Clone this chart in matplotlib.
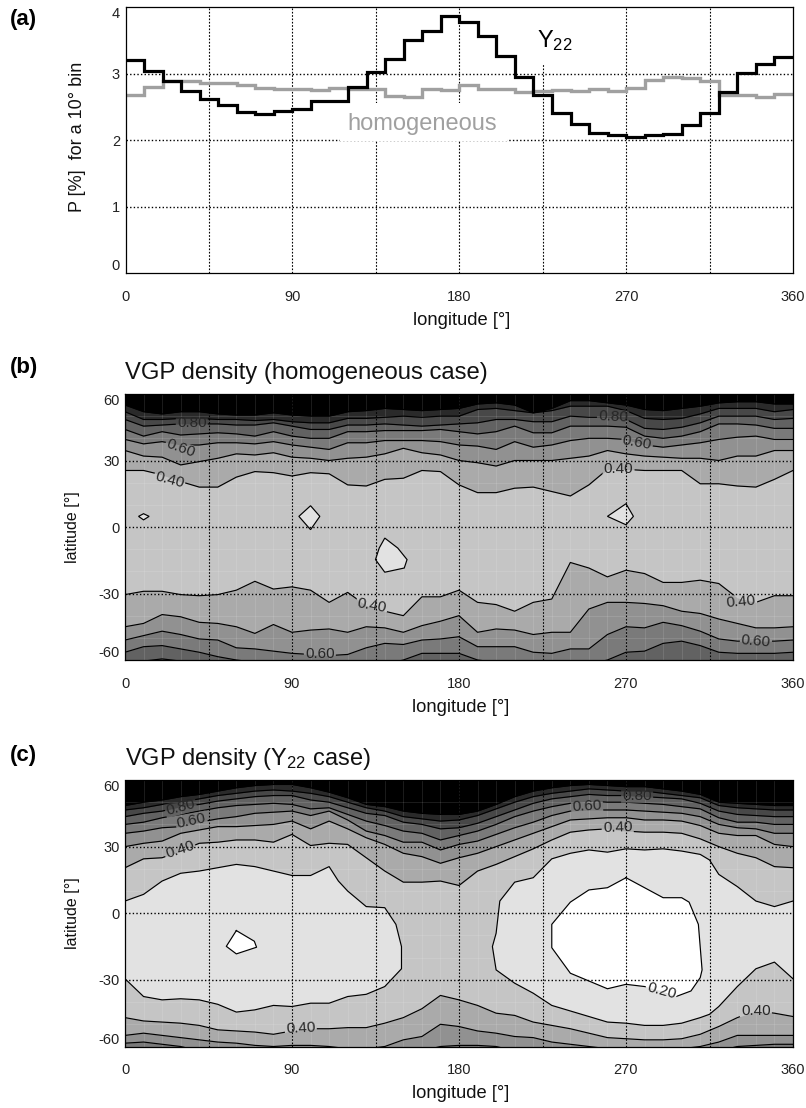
import numpy as np
import matplotlib
matplotlib.use("Agg")
import matplotlib.pyplot as plt
from matplotlib.patches import Rectangle
from matplotlib.path import Path

plt.rcParams['font.family'] = ['Liberation Sans', 'DejaVu Sans']
plt.rcParams['mathtext.fontset'] = 'custom'
plt.rcParams['mathtext.rm'] = 'Liberation Sans'
plt.rcParams['mathtext.default'] = 'rm'

# panel (a), one value per 10 degree bin
p_y22 = [3.21, 3.04, 2.88, 2.74, 2.61, 2.52, 2.42, 2.39, 2.44, 2.46, 2.59, 2.58,
         2.79, 3.02, 3.22, 3.50, 3.64, 3.86, 3.77, 3.56, 3.26, 2.94, 2.68, 2.40,
         2.24, 2.11, 2.08, 2.05, 2.08, 2.09, 2.22, 2.40, 2.72, 3.01, 3.15, 3.25]
p_homog = [2.67, 2.80, 2.88, 2.88, 2.85, 2.85, 2.82, 2.78, 2.77, 2.77, 2.75, 2.78,
           2.76, 2.76, 2.66, 2.64, 2.77, 2.75, 2.83, 2.76, 2.77, 2.72, 2.74, 2.75,
           2.74, 2.77, 2.73, 2.78, 2.90, 2.94, 2.93, 2.89, 2.68, 2.67, 2.65, 2.69]
bin_edges = list(range(0, 370, 10))
node_lon = list(range(0, 370, 10))

# contour latitudes at each node longitude, panel (b), northern side
b_top_100 = [55, 52, 51, 52, 52, 51, 50.5, 50.5, 51.5, 50.5, 50, 50, 52, 52.5, 53.5, 53, 52.5, 53, 53.5,
             55.5, 56, 55, 51.5, 53.5, 57, 57, 56, 55, 53, 52.5, 53.5, 54.5, 56, 56.5, 56.5, 55.5, 55.5]
b_top_090 = [52, 48.5, 48.5, 49, 49, 48.5, 48.5, 48, 48.5, 47.5, 47, 47, 49, 49, 49.5, 50, 49.5, 50, 50,
             53, 53.5, 52.5, 51.5, 52.5, 54.5, 54.5, 54.5, 52.5, 49, 48.5, 49, 51, 53.5, 53.5, 53.5, 52, 53]
b_top_080 = [48.5, 45.5, 46, 46.5, 46.5, 46.5, 46, 46, 47, 45.5, 44, 44, 46, 46, 46.5, 46, 45.5, 46, 46.5,
             47, 48.5, 48.5, 47.5, 47.5, 50, 49.5, 49.5, 48.5, 44.5, 44, 45, 47, 50, 50, 50, 48.5, 49]
b_top_070 = [44, 41, 43, 41.5, 42, 42.5, 42, 41, 43, 41, 40, 40, 43, 43, 43.5, 43.5, 43.5, 44, 43,
             42, 43, 45.5, 42.5, 42.5, 45.5, 45.5, 45.5, 45, 41, 40, 41, 43, 46.5, 46.5, 46, 44.5, 44.5]
b_top_060 = [39.5, 37.5, 38.5, 37, 37, 38, 38, 37.5, 38.5, 37, 36, 35, 38, 38, 39, 39, 39, 38.5, 37,
             36.5, 35, 38.5, 36, 37, 39, 40, 40, 39.5, 37, 36, 37, 38, 39.5, 40.5, 41, 39.5, 39.5]
b_top_050 = [34.5, 32, 31.5, 28, 29.5, 31, 33, 32.5, 33.5, 31.5, 31, 30, 31, 31.5, 33, 35.5, 33.5, 32.5, 30,
             29, 27.5, 30, 30, 30, 31, 32, 34.5, 33, 32, 31.5, 31, 31, 30, 32, 32, 34.5, 34.5]
b_top_040 = [25.5, 25.5, 23.5, 20.5, 18, 18, 22.5, 25, 24.5, 23, 24.5, 24, 19, 18.5, 21.5, 22, 25.5, 25, 19,
             15.5, 15.5, 17.5, 18, 16, 14, 19, 26, 26, 25.5, 25.5, 25.5, 19.5, 19.5, 18.5, 18, 21.5, 25.5]
# panel (b), southern side
b_low_040 = [-30.5, -29, -29, -30.5, -31, -30.5, -28.5, -24.5, -28, -27, -28.5, -34, -29.5, -35.5, -38, -40,
             -31.5, -31.5, -28.5, -34, -35, -38, -34, -32.5, -16, -18.5, -22.5, -19.5, -21, -25, -25, -24,
             -25.5, -32, -34, -31, -31]
b_low_050 = [-45, -43.5, -39.5, -40.5, -43, -43.5, -45, -48, -44, -47.5, -46.5, -46, -47.5, -45, -45.5, -47.5,
             -44.5, -42.5, -40, -47.5, -46, -46.5, -48.5, -47.5, -47.5, -37, -34, -34, -34.5, -35.5, -38, -39,
             -41.5, -43.5, -45.5, -45.5, -45]
b_low_060 = [-51, -49, -47, -48.5, -50.5, -51, -54.5, -55, -56, -57, -57.5, -58, -57.5, -54.5, -52.5, -53,
             -51, -50.5, -49.5, -54, -54, -54, -56.5, -57, -55, -55, -48.5, -45, -45.5, -43, -44.5, -47,
             -50.5, -51.5, -51.5, -51.5, -51]
b_low_070 = [-56.5, -54, -53.5, -55, -56.5, -58.5, -60, -61, -62, -62, -62, -62, -62, -62, -62, -60,
             -57, -57, -57, -60, -61, -62, -62, -62, -62, -62, -60, -56.5, -56, -52.5, -51.5, -53.5,
             -56.5, -57, -57, -57, -56.5]
b_low_080 = [-61, -60.5, -59.5, -60.5, -62, -63, -63, -63, -63, -63, -63, -63, -63, -63, -63, -63,
             -63, -63, -63, -63, -63, -63, -63, -63, -63, -63, -63, -62, -62, -61, -61, -62,
             -63, -63, -63, -63, -63]
# panel (b), closed islands below 0.30
b_isl_lon = [[7.3, 10, 13, 10], [100, 105, 100, 93.7],
             [140, 147, 152, 150.5, 140, 135, 137], [270, 274, 270, 260]]
b_isl_lat = [[4.8, 6, 4.8, 3.2], [9.6, 4.8, -1.2, 4.8],
             [-5, -9.5, -14.7, -18.5, -20.4, -14.7, -9.5], [10.5, 4.8, 1, 4.8]]

# panel (c), northern side
c_top_100 = [48.5, 50, 51, 52.5, 53.5, 55, 56.5, 57.5, 58, 58, 56.5, 54.5, 52, 49, 48, 46, 45, 44.5, 44.5,
             46, 49, 52.5, 55, 56.5, 57.5, 58, 57.5, 57, 57, 56, 55, 53.5, 50, 49.5, 49, 48.5, 48.5]
c_top_090 = [46.5, 47.5, 49, 50, 51.5, 53, 54, 55, 55.5, 55, 54, 52.5, 50, 47.5, 46, 43.5, 42.5, 41.5, 42,
             44, 47, 50, 52.5, 54, 55, 56, 55.5, 55, 55, 54, 53, 52, 48.5, 47.5, 47, 46.5, 46.5]
c_top_080 = [43.5, 45, 46, 48, 49, 50.5, 51.5, 52.5, 53, 53, 51, 50, 47.5, 45, 44, 41, 40, 38, 38.5,
             40.5, 43.5, 46.5, 49.5, 51.5, 52.5, 53.5, 53, 53, 52.5, 52, 51.5, 49.5, 46, 44.5, 44, 43.5, 43.5]
c_top_070 = [40, 41, 43, 44.5, 46, 47.5, 48.5, 49, 49.5, 49, 47, 47.5, 44.5, 41.5, 39.5, 37, 36, 33, 35,
             37, 40, 43.5, 46, 48, 49.5, 50.5, 50, 50, 49.5, 49, 48, 47, 43, 41, 41, 40, 40]
c_top_060 = [36, 37, 38.5, 39, 41, 42.5, 43.5, 45, 45.5, 46, 44, 46, 42, 37, 35, 32, 32, 28.5, 31,
             32.5, 35.5, 38.5, 41, 44, 46, 46.5, 46.5, 46.5, 46, 45.5, 45, 43.5, 40, 38.5, 38, 36, 36]
c_top_050 = [30, 31.5, 32.5, 36, 37.5, 39, 39, 39.5, 40, 41.5, 38, 41.5, 38, 34, 31, 27, 25.5, 22.5, 25,
             27, 30, 33, 36, 39, 42, 42.5, 43, 43, 42, 42, 41.5, 39.5, 36, 35, 35, 31, 30]
c_top_040 = [20.5, 24.5, 25, 28, 31.5, 32, 33, 33, 32, 35.5, 30.5, 31.5, 31, 25, 19, 14, 14, 14.5, 12.5,
             19, 22, 25.5, 29, 33, 36.5, 37.5, 38, 37, 36.5, 36.5, 36, 33.5, 30, 27, 25, 21, 20.5]
# panel (c), southern side
c_low_040 = [-47, -48.5, -49, -49.5, -50.5, -52.5, -53, -53.5, -54.5, -53, -52, -52, -51.5, -51.5, -49.5, -47,
             -43, -37, -39, -41.5, -45, -46, -49, -50.5, -52, -54, -56, -56.5, -57, -57, -56.5, -54.5,
             -51, -47, -44, -45, -46.5]
c_low_050 = [-55, -54, -55, -56, -57, -58, -58.5, -59.5, -60, -59.5, -59.5, -60, -61, -61, -60, -57,
             -55.5, -50, -51, -53, -54, -55.5, -56, -58, -59, -60, -61, -61, -61, -61, -61, -60,
             -58, -55, -55, -55, -55]
c_low_060 = [-58.5, -58, -59, -60, -62, -62, -62, -62, -62, -62, -62, -62, -62, -62, -62, -62,
             -62, -60, -59.5, -59.5, -60, -62, -62, -62, -62, -62, -62, -62, -62, -62, -62, -62,
             -62, -60, -59.5, -59, -59]
# panel (c), 0.30 regions, both touch the map edges
c_030_west_lon = [0, 10, 20, 30, 40, 50, 60, 70, 80, 90, 100, 110, 115, 120, 130, 140, 146, 149, 149,
                  140, 130, 120, 110, 100, 90, 80, 70, 60, 50, 40, 30, 20, 10, 0]
c_030_west_lat = [5.5, 8.5, 14.5, 18, 19, 20.5, 22, 21, 19, 17, 17, 21, 14.5, 10, 3, 2.5, -5, -15, -25,
                  -33, -36.5, -37.5, -40.5, -40.5, -42, -41.5, -43.5, -44.5, -41, -39, -38.5, -39, -37.5, -29.5]
c_030_east_lon = [360, 350, 340, 330, 320, 315, 310, 300, 290, 280, 270, 260, 250, 240, 230, 220, 210, 202,
                  200, 198, 200, 210, 220, 230, 240, 250, 260, 270, 280, 290, 300, 310, 315, 320, 330, 340, 350, 360]
c_030_east_lat = [5.5, 3, 5.5, 12, 17.5, 24, 26.5, 28, 29, 28.5, 29, 27.5, 28.5, 27, 24.5, 16, 14, 5.5,
                  -9, -15, -25.5, -31.5, -36, -41.5, -44, -46.5, -49, -49.5, -50.5, -50.5, -49.5, -47, -45.5,
                  -42, -33, -25, -22, -29.5]
# panel (c), closed regions below 0.20
c_020_lon = [[60, 69.7, 70.9, 60, 54.6],
             [270, 280, 290, 300, 304, 309, 311, 310, 305, 297, 289, 280, 270, 260, 250, 240, 230, 230, 240, 250, 260]]
c_020_lat = [[-7.8, -12.6, -15.3, -18.3, -14.9],
             [16, 11.5, 7, 7, 5, -5, -25.5, -29, -35, -37.5, -35, -33, -32, -34, -30.5, -27, -15.5, -5, 5, 10.5, 11.5]]

# contour labels: text, lon, lat, rotation
b_labels = [("0.80", 36, 47, 0), ("0.60", 30, 35.5, -20), ("0.40", 24, 21.3, -15),
            ("0.80", 263, 49.8, -3), ("0.60", 276, 38, -10), ("0.40", 266, 26, 0),
            ("0.40", 133, -35.4, -10), ("0.60", 105, -57.5, 0), ("0.40", 332, -33.7, 5),
            ("0.60", 340, -51.7, -5)]
c_labels = [("0.80", 30, 47.7, 15), ("0.60", 35.7, 41.7, 12), ("0.40", 29.6, 28.6, 18),
            ("0.40", 94.7, -51.6, 3), ("0.80", 276, 53, 0), ("0.60", 249, 48, 3),
            ("0.40", 265.5, 38.4, 2), ("0.20", 289, -35, -15), ("0.40", 340, -43.8, 0)]

lon_ticks = [0, 90, 180, 270, 360]
lon_grid = [45, 90, 135, 180, 225, 270, 315]
lat_ticks = [-60, -30, 0, 30, 60]
lat_tick_labels = ["-60", "-30", "0", "30", "60"]


def band_color(level):
    # gray for the band that holds this density
    grays = [(0.2, 255), (0.3, 226), (0.4, 197), (0.5, 170), (0.6, 145),
             (0.7, 122), (0.8, 98), (0.9, 72), (1.0, 42)]
    for limit, g in grays:
        if level < limit:
            return (g/255, g/255, g/255)
    return (0, 0, 0)


def set_axes(rect):
    W, H = 806.0, 1108.0
    left, top, right, bottom = rect
    ax = fig.add_axes([left/W, 1 - bottom/H, (right - left)/W, (bottom - top)/H])
    ax.set_xlim(0, 360)
    ax.set_xticks(lon_ticks)
    ax.set_xticklabels([str(v) for v in lon_ticks], fontsize=10.5)
    ax.tick_params(length=0, pad=12, axis='x', colors='#222222')
    ax.tick_params(length=0, pad=4, axis='y', colors='#222222')
    ax.set_xlabel("longitude [°]", fontsize=13.2, color='#111111', va='center')
    ax.xaxis.set_label_coords(0.503, -0.177)
    return ax


def label_holes(labels):
    # clip path in data units: the whole map minus a box round each contour label
    sx, sy = 668/360.0, 266/120.0
    paths = [Path([(-20, -100), (380, -100), (380, 100), (-20, 100), (-20, -100)], closed=True)]
    for txt, lon, lat, rot in labels:
        a = np.radians(rot)
        pts = []
        for dx, dy in [(-16, -7), (-16, 7), (16, 7), (16, -7), (-16, -7)]:
            px = dx*np.cos(a) - dy*np.sin(a)
            py = dx*np.sin(a) + dy*np.cos(a)
            pts.append((lon + px/sx, lat + py/sy))
        paths.append(Path(pts, closed=True))
    return Path.make_compound_path(*paths)


def contour_line(ax, lon, lat, clip, z=3):
    line, = ax.plot(lon, lat, color='black', lw=0.85, zorder=z)
    line.set_clip_path(clip, ax.transData)


def draw_density(ax, tops, lows, labels):
    ax.set_facecolor('black')
    clip = label_holes(labels)
    # painted from the pole to the middle, each fill covers the one before
    for level, lat in tops:
        ax.fill_between(node_lon, -70, lat, color=band_color(level - 0.05), lw=0, zorder=1)
    for level, lat in lows:
        ax.fill_between(node_lon, -70, lat, color=band_color(level + 0.05), lw=0, zorder=1)
    for level, lat in tops + lows:
        contour_line(ax, node_lon, lat, clip)
    # faint seams of the original grid
    ax.vlines(node_lon, -60, 60, color='white', lw=0.6, alpha=0.13, zorder=2)
    ax.hlines(range(-60, 61, 10), 0, 360, color='white', lw=0.6, alpha=0.13, zorder=2)
    ax.vlines(lon_grid, -60, 60, color='black', lw=0.8, linestyles=(0, (1.5, 1.5)), zorder=5)
    ax.hlines([-30, 0, 30], 0, 360, color='black', lw=1.0, linestyles=(0, (1, 1.6)), zorder=5)
    for txt, lon, lat, rot in labels:
        ax.text(lon, lat, txt, fontsize=11, rotation=rot, ha='center', va='center', color='#262626',
                rotation_mode='anchor', zorder=6)
    ax.set_ylim(-60, 60)
    ax.set_yticks(lat_ticks)
    ax.set_yticklabels(lat_tick_labels, fontsize=10.5)
    ax.get_yticklabels()[0].set_va('bottom')
    ax.get_yticklabels()[-1].set_va('top')
    ax.set_ylabel("latitude [°]", fontsize=11.5, color='#111111', va='center')
    ax.yaxis.set_label_coords(-0.078, 0.5)
    for s in ax.spines.values():
        s.set_linewidth(0.9)
        s.set_linestyle((0, (1, 1)))
        s.set_zorder(7)
    return clip


fig = plt.figure(figsize=(8.06, 11.08), dpi=100)

# (a)
ax = set_axes((125.5, 7, 793, 273))
ax.set_ylim(0, 4)
ax.set_yticks([0, 1, 2, 3, 4])
ax.set_yticklabels(["0", "1", "2", "3", "4"], fontsize=10.5)
ax.get_yticklabels()[0].set_va('bottom')
ax.get_yticklabels()[-1].set_va('top')
ax.vlines(lon_grid, 0, 4, color='black', lw=0.8, linestyles=(0, (1.5, 1.5)), zorder=1)
ax.hlines([1, 2, 3], 0, 360, color='black', lw=1.0, linestyles=(0, (1, 1.6)), zorder=1)
ax.add_patch(Rectangle((115.5, 1.98), 90.5, 0.57, facecolor='white', edgecolor='none', zorder=2))
ax.add_patch(Rectangle((220, 3.15), 30, 0.85, facecolor='white', edgecolor='none', zorder=2))
ax.stairs(p_homog, bin_edges, color='#a0a0a0', lw=2.4, baseline=None, zorder=3)
ax.stairs(p_y22, bin_edges, color='black', lw=2.3, baseline=None, zorder=4)
ax.text(222, 3.5, "$Y_{22}$", fontsize=17, ha='left', va='center', color='black', zorder=5)
ax.text(160, 2.24, "homogeneous", fontsize=17, ha='center', va='center', color='#a0a0a0', zorder=5)
ax.set_ylabel("P [%]  for a 10° bin", fontsize=13, color='#111111', va='center')
ax.yaxis.set_label_coords(-0.072, 0.51)
for s in ax.spines.values():
    s.set_linewidth(0.9)
    s.set_zorder(7)

# (b)
ax = set_axes((125, 394, 793, 660))
clip = draw_density(ax,
                    [(1.0, b_top_100), (0.9, b_top_090), (0.8, b_top_080), (0.7, b_top_070),
                     (0.6, b_top_060), (0.5, b_top_050), (0.4, b_top_040)],
                    [(0.4, b_low_040), (0.5, b_low_050), (0.6, b_low_060), (0.7, b_low_070), (0.8, b_low_080)],
                    b_labels)
for lon, lat in zip(b_isl_lon, b_isl_lat):
    ax.fill(lon, lat, facecolor=band_color(0.25), edgecolor='black', lw=0.85, zorder=4)
ax.set_title("VGP density (homogeneous case)", fontsize=17.2, loc='left', pad=11, color='#111111')

# (c)
ax = set_axes((125, 780, 793, 1046.5))
clip = draw_density(ax,
                    [(1.0, c_top_100), (0.9, c_top_090), (0.8, c_top_080), (0.7, c_top_070),
                     (0.6, c_top_060), (0.5, c_top_050), (0.4, c_top_040)],
                    [(0.4, c_low_040), (0.5, c_low_050), (0.6, c_low_060)],
                    c_labels)
ax.fill(c_030_west_lon, c_030_west_lat, facecolor=band_color(0.25), edgecolor='none', zorder=3)
contour_line(ax, c_030_west_lon, c_030_west_lat, clip, z=4)
ax.fill(c_030_east_lon, c_030_east_lat, facecolor=band_color(0.25), edgecolor='none', zorder=3)
contour_line(ax, c_030_east_lon, c_030_east_lat, clip, z=4)
for lon, lat in zip(c_020_lon, c_020_lat):
    ax.fill(lon, lat, facecolor='white', edgecolor='none', zorder=4)
    contour_line(ax, lon + lon[:1], lat + lat[:1], clip, z=4)
ax.set_title("VGP density ($Y_{22}$ case)", fontsize=17, loc='left', pad=11, color='#111111')

fig.text(10/806, 1 - 20/1108, "(a)", fontsize=16, fontweight='bold', va='center')
fig.text(10/806, 1 - 367/1108, "(b)", fontsize=16, fontweight='bold', va='center')
fig.text(10/806, 1 - 755/1108, "(c)", fontsize=16, fontweight='bold', va='center')

fig.savefig("out.png", dpi=100)
